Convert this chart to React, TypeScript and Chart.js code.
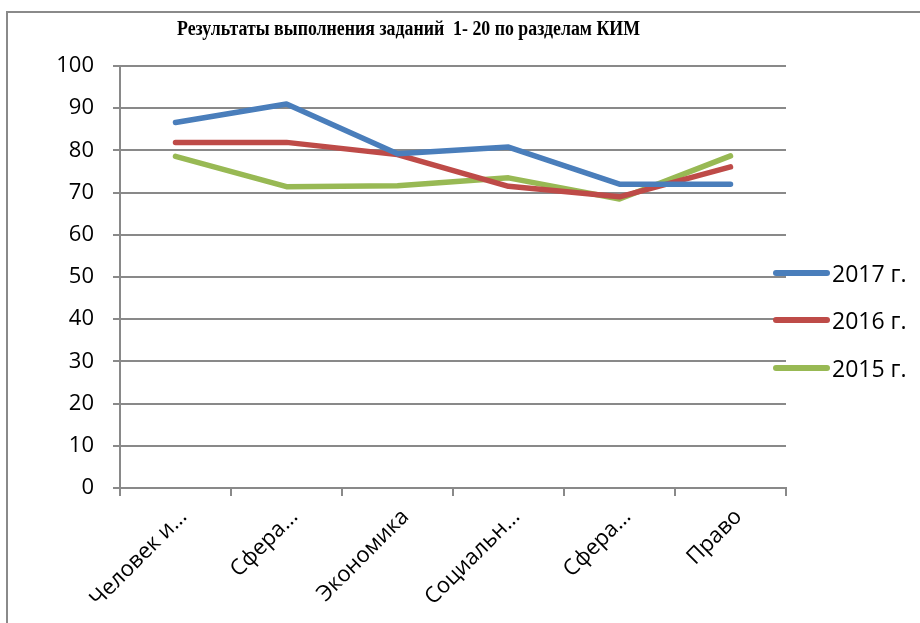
import React, { useEffect, useLayoutEffect, useRef } from "react";
import { Chart, registerables } from "chart.js";

Chart.register(...registerables);

const title = "Результаты выполнения заданий  1- 20 по разделам КИМ";
const categories = ["Человек и...", "Сфера...", "Экономика", "Социальн...", "Сфера...", "Право"];
const yTicks = [0, 10, 20, 30, 40, 50, 60, 70, 80, 90, 100];
const seriesNames = ["2017 г.", "2016 г.", "2015 г."];
const values2017 = [86.6, 91.0, 79.2, 80.8, 72.0, 72.0];
const values2016 = [81.9, 81.9, 79.0, 71.5, 69.0, 76.1];
const values2015 = [78.6, 71.4, 71.6, 73.5, 68.5, 78.7];
const seriesColors = ["#4A7EBB", "#BE4B48", "#98B954"];

const FONT = "'Open Sans', 'DejaVu Sans', sans-serif";
const GRID = "#898989";

export default function App() {
  const canvasRef = useRef<HTMLCanvasElement | null>(null);
  const titleRef = useRef<HTMLSpanElement | null>(null);

  useLayoutEffect(() => {
    const el = titleRef.current;
    if (el) {
      el.style.transform = "none";
      const w = el.getBoundingClientRect().width;
      if (w > 0) el.style.transform = `scaleX(${463 / w})`;
    }
  }, []);

  useEffect(() => {
    if (!canvasRef.current) return;
    const series = [values2017, values2016, values2015];
    const chart = new Chart(canvasRef.current, {
      type: "line",
      data: {
        labels: categories,
        datasets: series.map((vals, i) => ({
          label: seriesNames[i],
          data: vals,
          borderColor: seriesColors[i],
          backgroundColor: seriesColors[i],
          borderWidth: 5.5,
          borderCapStyle: "round" as const,
          borderJoinStyle: "round" as const,
          pointRadius: 0,
          pointHoverRadius: 0,
          tension: 0,
          fill: false,
        })),
      },
      options: {
        responsive: false,
        animation: false,
        events: [],
        layout: { padding: { left: 0, top: 66, right: 134, bottom: 0 } },
        plugins: {
          legend: { display: false },
          title: { display: false },
          tooltip: { enabled: false },
        },
        scales: {
          x: {
            type: "category",
            offset: true,
            grid: {
              offset: true,
              drawOnChartArea: false,
              drawTicks: true,
              tickLength: 8,
              color: GRID,
              lineWidth: 2,
            },
            border: { display: true, color: GRID, width: 2 },
            ticks: {
              autoSkip: false,
              minRotation: 45,
              maxRotation: 45,
              padding: 8,
              labelOffset: 8,
              color: "#000",
              font: { family: FONT, size: 22 },
            },
            afterFit: (scale: any) => {
              scale.height = 623 - 488;
            },
          },
          y: {
            min: 0,
            max: 100,
            afterBuildTicks: (scale: any) => {
              scale.ticks = yTicks.map((v) => ({ value: v }));
            },
            grid: {
              color: GRID,
              lineWidth: 2,
              drawTicks: true,
              tickLength: 7,
            },
            border: { display: true, color: GRID, width: 2 },
            ticks: {
              padding: 19,
              color: "#000",
              font: { family: FONT, size: 22 },
            },
            afterFit: (scale: any) => {
              scale.width = 120;
            },
          },
        },
      },
    });
    return () => chart.destroy();
  }, []);

  const legendTops = [273, 320, 368];

  return (
    <div
      style={{
        position: "absolute",
        left: 0,
        top: 0,
        width: 920,
        height: 623,
        overflow: "hidden",
        background: "#fff",
      }}
    >
      <div
        style={{
          position: "absolute",
          left: 6,
          top: 11,
          width: 940,
          height: 640,
          borderTop: "2px solid #8a8a8a",
          borderLeft: "2px solid #8a8a8a",
        }}
      />
      <canvas
        ref={canvasRef}
        width={920}
        height={623}
        style={{ position: "absolute", left: 0, top: 0, display: "block" }}
      />
      <span
        ref={titleRef}
        style={{
          position: "absolute",
          left: 177,
          top: 16,
          whiteSpace: "pre",
          fontFamily: "'Liberation Serif', 'Times New Roman', serif",
          fontWeight: "bold",
          fontSize: 20,
          lineHeight: "24px",
          color: "#000",
          transformOrigin: "left center",
        }}
      >
        {title}
      </span>
      {seriesNames.map((name, i) => (
        <div
          key={name}
          style={{
            position: "absolute",
            left: 773,
            top: legendTops[i] - 16,
            height: 32,
            display: "flex",
            alignItems: "center",
          }}
        >
          <div
            style={{
              width: 57,
              height: 6,
              borderRadius: 3,
              background: seriesColors[i],
              marginRight: 2,
            }}
          />
          <span
            style={{
              fontFamily: FONT,
              fontSize: 23,
              color: "#000",
              whiteSpace: "pre",
            }}
          >
            {name}
          </span>
        </div>
      ))}
    </div>
  );
}
